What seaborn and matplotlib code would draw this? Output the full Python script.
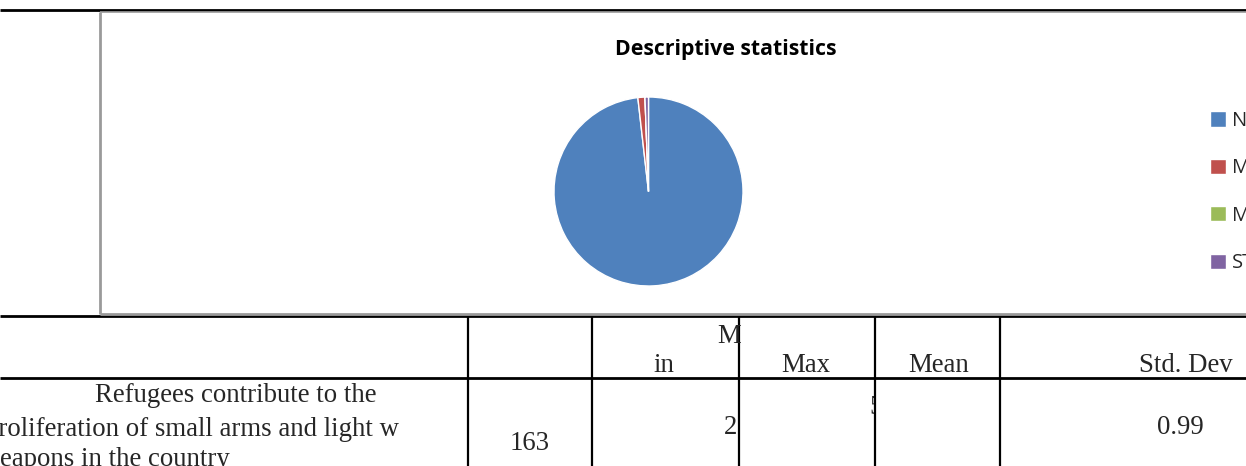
import matplotlib
matplotlib.use("Agg")
import matplotlib.pyplot as plt
from matplotlib.patches import Rectangle
import seaborn as sns

# Descriptive statistics for the survey item
stat_labels = ["N", "Min", "Mean", "STD"]
stat_values = [163, 2, 0, 0.99]

# Table content
header_cells = ["in", "Max", "Mean", "Std. Dev"]
item_lines = ["Refugees contribute to the",
              "proliferation of small arms and light w",
              "eapons in the country"]
n_text = "163"
min_text = "2"
max_text = "5"
sd_text = "0.99"

sns.set_theme(style="white")
colors = ["#4F81BD", "#C0504D", "#9BBB59", "#8064A2"]

W, H = 1246, 466
fig = plt.figure(figsize=(W / 100, H / 100), dpi=100)
fig.patch.set_facecolor("white")

# Page layer in pixel coordinates
page = fig.add_axes([0, 0, 1, 1])
page.set_xlim(0, W)
page.set_ylim(H, 0)
page.axis("off")

def hline(y, x0, x1, color="black", lw=1.5):
    page.plot([x0, x1], [y, y], color=color, lw=lw, solid_capstyle="butt")

def vline(x, y0, y1, color="black", lw=1.5):
    page.plot([x, x], [y0, y1], color=color, lw=lw, solid_capstyle="butt")

# Table borders
hline(10, 0, W, lw=2.0)
hline(315.5, 0, W, lw=2.0)
hline(378, 0, W, lw=2.0)
for x in [468, 592, 739, 875, 1000]:
    vline(x, 316, H, lw=1.6)

# Chart frame
frame_c = "#9a9a9a"
vline(100, 11.5, 313.5, color=frame_c, lw=2.0)
hline(12, 100, W, color=frame_c, lw=1.2)
hline(313.5, 100, W, color=frame_c, lw=2.0)

# Chart title
page.text(726, 49, "Descriptive statistics", ha="center", va="center",
          fontsize=15.3, fontweight="bold", family="Open Sans", color="black")

# Table text
serif = "Liberation Serif"
fs = 19.3
page.text(741, 343, "M", ha="right", va="baseline", family=serif, fontsize=fs)
page.text(664, 372, header_cells[0], ha="center", va="baseline", family=serif, fontsize=fs)
page.text(806, 372, header_cells[1], ha="center", va="baseline", family=serif, fontsize=fs)
page.text(939, 372, header_cells[2], ha="center", va="baseline", family=serif, fontsize=fs)
page.text(1233, 372, header_cells[3], ha="right", va="baseline", family=serif, fontsize=fs)

page.text(95, 402, item_lines[0], ha="left", va="baseline", family=serif, fontsize=fs)
page.text(-15, 436, item_lines[1], ha="left", va="baseline", family=serif, fontsize=fs)
page.text(0, 466, item_lines[2], ha="left", va="baseline", family=serif, fontsize=fs)

page.text(530, 450, n_text, ha="center", va="baseline", family=serif, fontsize=fs)
page.text(737, 434, min_text, ha="right", va="baseline", family=serif, fontsize=fs)
t5 = page.text(869, 414, max_text, ha="left", va="baseline", family=serif,
               fontsize=fs, clip_on=True)
t5.set_clip_path(Rectangle((740, 378), 134, 88, transform=page.transData))
page.text(1180, 434, sd_text, ha="center", va="baseline", family=serif, fontsize=fs)

# Pie chart
cx, cy, r = 648.5, 191.5, 94.5
pie_ax = fig.add_axes([(cx - r) / W, (H - cy - r) / H, 2 * r / W, 2 * r / H])
wedges, _ = pie_ax.pie(stat_values, colors=colors, startangle=90,
                       counterclock=False, radius=1.0)
pie_ax.set_xlim(-1, 1)
pie_ax.set_ylim(-1, 1)
pie_ax.set_aspect("equal")
pie_ax.axis("off")

# Legend, running past the right edge of the page
leg = fig.legend(wedges, stat_labels, loc="upper left",
                 bbox_to_anchor=(1210 / W, 1 - 111 / H),
                 frameon=False, handlelength=0.78, handleheight=0.78,
                 handletextpad=0.3, labelspacing=1.36, borderpad=0,
                 borderaxespad=0, prop={"family": "Open Sans", "size": 14.5})

fig.savefig("out.png", dpi=100, facecolor="white")
